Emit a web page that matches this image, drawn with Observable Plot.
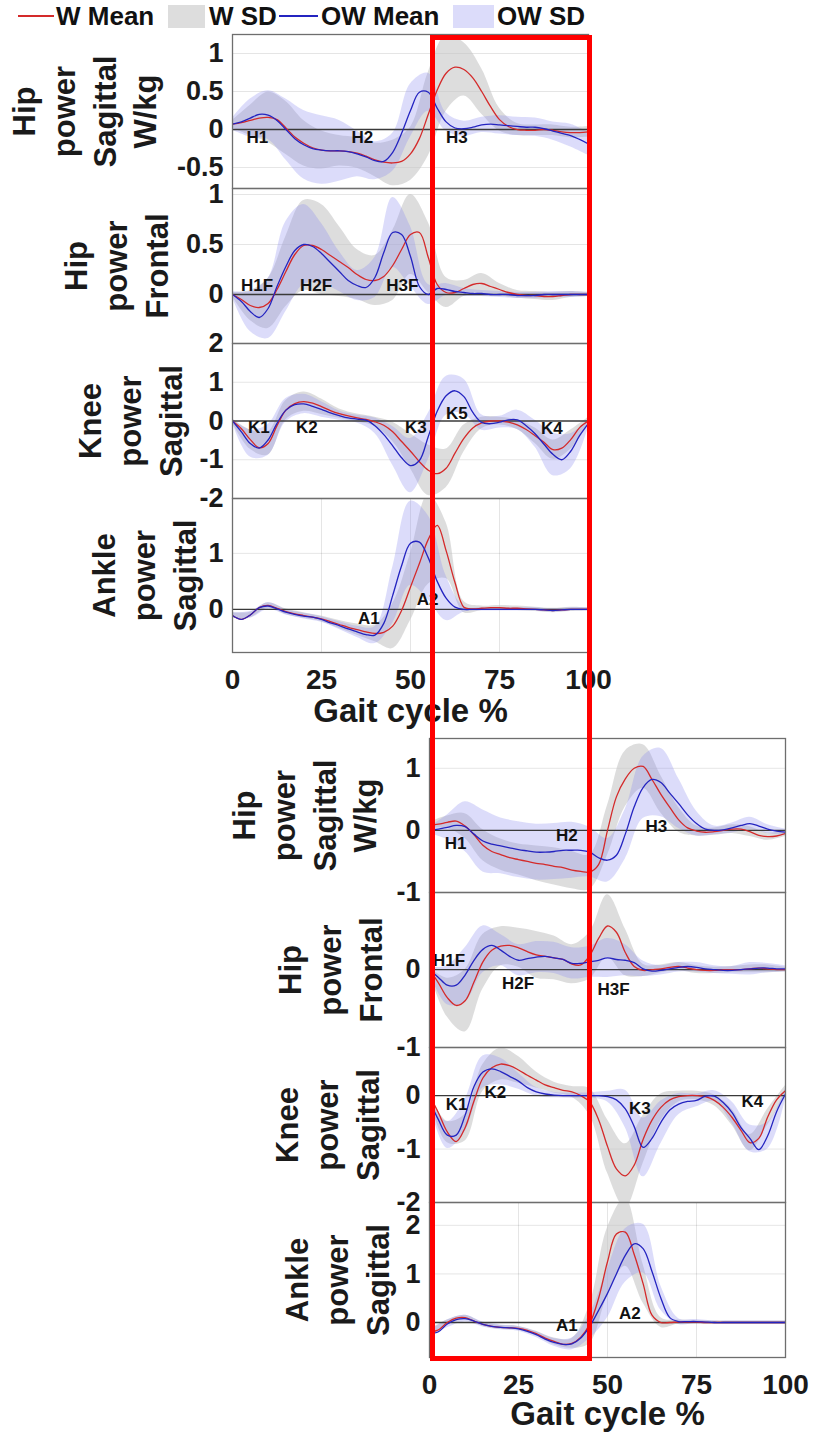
<!DOCTYPE html>
<html>
<head>
<meta charset="utf-8">
<script src="https://cdn.jsdelivr.net/npm/d3@7"></script>
<script src="https://cdn.jsdelivr.net/npm/@observablehq/plot@0.6"></script>
<style>
  body { margin: 0; background: #fff; font-family: "Liberation Sans", Arial, Helvetica, sans-serif; }
  #wrap { position: relative; width: 817px; height: 1437px; overflow: hidden; background: #fff; }
  .panel { position: absolute; left: 0; }
  .leg { position: absolute; font-weight: bold; font-size: 26px; line-height: 26px; color: #111; white-space: nowrap; }
  .sw { position: absolute; }
  #box { position: absolute; left: 430px; top: 35px; width: 162px; height: 1326px; border: 5px solid #ff0000; box-sizing: border-box; z-index: 10; }
</style>
</head>
<body>
<div id="wrap"></div>
<script>
// ---------------- data ----------------
const gaitPct = [0,2.5,5,7.5,10,12.5,15,17.5,20,22.5,25,27.5,30,32.5,35,37.5,40,42.5,45,47.5,50,52.5,55,57.5,60,62.5,65,67.5,70,72.5,75,77.5,80,82.5,85,87.5,90,92.5,95,97.5,100];
const sdPct = [0,5,10,15,20,25,30,35,40,45,50,55,60,65,70,75,80,85,90,95,100];

const seriesNames = ["W Mean", "W SD", "OW Mean", "OW SD"];

// Top figure
const topHipSagW   = [0.07,0.09,0.12,0.15,0.16,0.13,0.02,-0.1,-0.18,-0.24,-0.27,-0.28,-0.28,-0.29,-0.31,-0.35,-0.4,-0.43,-0.44,-0.42,-0.32,-0.12,0.2,0.52,0.74,0.82,0.79,0.68,0.5,0.3,0.13,0.04,0.0,-0.01,-0.01,0.0,-0.01,-0.03,-0.04,-0.04,-0.03];
const topHipSagOW  = [0.07,0.1,0.15,0.2,0.19,0.12,0.0,-0.12,-0.2,-0.25,-0.27,-0.28,-0.28,-0.29,-0.32,-0.36,-0.41,-0.42,-0.3,-0.05,0.25,0.49,0.49,0.28,0.1,0.02,0.01,0.03,0.06,0.07,0.06,0.05,0.04,0.03,0.03,0.01,-0.02,-0.05,-0.08,-0.13,-0.19];
const topHipSagWsd  = [0.05,0.2,0.33,0.35,0.3,0.25,0.2,0.2,0.22,0.3,0.35,0.55,0.5,0.35,0.3,0.15,0.08,0.07,0.07,0.07,0.07];
const topHipSagOWsd = [0.08,0.25,0.32,0.4,0.45,0.45,0.4,0.3,0.25,0.25,0.35,0.25,0.12,0.1,0.1,0.12,0.12,0.12,0.12,0.15,0.15];

const topHipFrW   = [0,-0.05,-0.11,-0.13,-0.09,0.05,0.23,0.4,0.49,0.49,0.45,0.39,0.33,0.27,0.2,0.15,0.14,0.18,0.29,0.45,0.6,0.62,0.37,0.1,0.02,0.02,0.06,0.1,0.11,0.08,0.05,0.02,0.0,-0.01,-0.01,-0.02,-0.02,-0.01,0,0,0];
const topHipFrOW  = [0,-0.07,-0.17,-0.23,-0.14,0.08,0.28,0.44,0.5,0.48,0.41,0.32,0.23,0.14,0.09,0.07,0.17,0.42,0.62,0.6,0.38,0.08,0.0,0.06,0.05,0.03,0.02,0.01,0.01,0,0,0,-0.01,-0.01,-0.01,0,0,0,0,0,0];
const topHipFrWsd  = [0.02,0.15,0.25,0.35,0.45,0.45,0.35,0.25,0.25,0.35,0.4,0.35,0.15,0.08,0.1,0.06,0.04,0.04,0.04,0.03,0.02];
const topHipFrOWsd = [0.03,0.2,0.3,0.45,0.4,0.3,0.2,0.15,0.2,0.35,0.3,0.1,0.06,0.04,0.03,0.03,0.03,0.03,0.03,0.03,0.02];

const topKneeW   = [0,-0.2,-0.48,-0.69,-0.58,-0.12,0.28,0.45,0.5,0.46,0.37,0.27,0.19,0.13,0.08,0.04,-0.02,-0.11,-0.28,-0.53,-0.78,-1.05,-1.27,-1.36,-1.22,-0.83,-0.45,-0.18,-0.05,0.0,0.0,-0.03,-0.1,-0.22,-0.38,-0.55,-0.74,-0.7,-0.48,-0.17,0.0];
const topKneeOW  = [0,-0.28,-0.58,-0.7,-0.49,-0.06,0.28,0.42,0.44,0.38,0.3,0.21,0.14,0.08,0.05,0.02,-0.12,-0.35,-0.64,-0.95,-1.15,-1.02,-0.4,0.25,0.65,0.78,0.63,0.22,-0.04,-0.07,-0.03,0.03,0.03,-0.12,-0.33,-0.6,-0.86,-1.0,-0.78,-0.38,-0.06];
const topKneeWsd  = [0.05,0.25,0.3,0.25,0.25,0.2,0.12,0.1,0.12,0.25,0.45,0.65,0.5,0.35,0.15,0.1,0.12,0.2,0.25,0.25,0.1];
const topKneeOWsd = [0.05,0.35,0.4,0.3,0.25,0.2,0.12,0.1,0.2,0.5,0.7,0.6,0.5,0.45,0.2,0.15,0.25,0.35,0.55,0.45,0.1];

const topAnkleW   = [-0.11,-0.18,-0.1,0.03,0.07,0.02,-0.04,-0.08,-0.11,-0.14,-0.17,-0.22,-0.27,-0.32,-0.36,-0.4,-0.43,-0.41,-0.3,-0.02,0.4,0.82,1.25,1.5,1.05,0.48,0.04,0.01,0.02,0.03,0.03,0.02,0.02,0.01,0,-0.01,-0.02,-0.01,0,0,0];
const topAnkleOW  = [-0.11,-0.18,-0.1,0.03,0.06,0.01,-0.05,-0.09,-0.12,-0.14,-0.18,-0.24,-0.29,-0.35,-0.4,-0.45,-0.46,-0.25,0.25,0.78,1.18,1.2,0.92,0.5,0.2,0.04,0,0,0,0,0,0,0,0,0,-0.01,-0.02,-0.01,0,0,0];
const topAnkleWsd  = [0.05,0.05,0.05,0.05,0.05,0.05,0.07,0.1,0.15,0.4,0.6,0.8,0.5,0.1,0.04,0.04,0.04,0.04,0.04,0.04,0.03];
const topAnkleOWsd = [0.05,0.06,0.06,0.05,0.05,0.05,0.07,0.1,0.15,0.5,0.75,0.75,0.4,0.05,0.03,0.03,0.03,0.03,0.03,0.03,0.03];

// Bottom figure
const botHipSagW   = [0.08,0.1,0.13,0.15,0.07,-0.07,-0.24,-0.34,-0.39,-0.44,-0.47,-0.5,-0.53,-0.55,-0.58,-0.6,-0.64,-0.66,-0.67,-0.55,0.0,0.54,0.83,1.0,1.03,0.82,0.58,0.37,0.17,0.04,-0.01,-0.03,-0.02,0,0.02,0.02,-0.02,-0.08,-0.1,-0.09,-0.05];
const botHipSagOW  = [0,0.02,0.05,0.08,0.06,-0.06,-0.17,-0.22,-0.25,-0.28,-0.31,-0.33,-0.35,-0.35,-0.34,-0.32,-0.32,-0.32,-0.35,-0.44,-0.48,-0.4,-0.06,0.38,0.69,0.82,0.77,0.6,0.43,0.25,0.11,0.02,0,0.01,0.04,0.08,0.11,0.07,0.02,-0.01,-0.03];
const botHipSagWsd  = [0.05,0.1,0.2,0.25,0.25,0.25,0.28,0.3,0.3,0.28,0.4,0.45,0.35,0.3,0.2,0.08,0.06,0.07,0.08,0.06,0.05];
const botHipSagOWsd = [0.05,0.2,0.4,0.5,0.45,0.45,0.45,0.45,0.45,0.4,0.35,0.4,0.5,0.55,0.4,0.2,0.07,0.08,0.1,0.07,0.05];

const botHipFrW   = [0,-0.17,-0.36,-0.46,-0.4,-0.16,0.1,0.25,0.3,0.31,0.28,0.23,0.19,0.17,0.15,0.13,0.07,0.06,0.18,0.4,0.56,0.48,0.22,0.04,-0.01,0,0.01,0.03,0.04,0.02,0,-0.01,-0.01,0,0,0,0.01,0.02,0.01,0,0];
const botHipFrOW  = [0,-0.1,-0.2,-0.2,-0.07,0.12,0.26,0.31,0.25,0.17,0.12,0.14,0.16,0.17,0.15,0.13,0.08,0.08,0.1,0.12,0.15,0.13,0.12,0.09,0.01,-0.02,-0.01,0.01,0.03,0.04,0.03,0.01,0,-0.01,-0.01,0,0.01,0.02,0.02,0.01,0.01];
const botHipFrWsd  = [0.03,0.25,0.4,0.35,0.25,0.25,0.3,0.28,0.25,0.3,0.4,0.3,0.08,0.05,0.05,0.05,0.04,0.04,0.05,0.05,0.03];
const botHipFrOWsd = [0.03,0.25,0.35,0.3,0.2,0.2,0.2,0.2,0.2,0.2,0.25,0.2,0.1,0.06,0.06,0.06,0.05,0.05,0.08,0.06,0.04];

const botKneeW   = [0,-0.32,-0.68,-0.86,-0.6,-0.1,0.33,0.52,0.59,0.56,0.48,0.38,0.29,0.2,0.15,0.1,0.07,0,-0.12,-0.45,-0.95,-1.37,-1.5,-1.3,-0.82,-0.46,-0.22,-0.08,-0.02,0,0,-0.02,-0.09,-0.22,-0.41,-0.65,-0.88,-0.8,-0.4,-0.08,0.09];
const botKneeOW  = [-0.09,-0.45,-0.74,-0.74,-0.37,0.17,0.44,0.5,0.45,0.36,0.27,0.15,0.07,0.03,0.01,0,0,0,0,0,-0.02,-0.08,-0.25,-0.58,-0.97,-0.8,-0.5,-0.27,-0.16,-0.11,-0.09,-0.01,-0.01,-0.13,-0.32,-0.6,-0.8,-1.01,-0.75,-0.3,0.03];
const botKneeWsd  = [0.05,0.2,0.25,0.25,0.3,0.25,0.15,0.1,0.1,0.25,0.5,0.6,0.45,0.25,0.1,0.08,0.1,0.15,0.15,0.15,0.1];
const botKneeOWsd = [0.05,0.25,0.3,0.3,0.25,0.15,0.08,0.05,0.05,0.05,0.1,0.35,0.55,0.4,0.2,0.12,0.1,0.2,0.25,0.25,0.1];

const botAnkleW   = [-0.2,-0.15,0,0.09,0.1,0.03,-0.04,-0.08,-0.1,-0.11,-0.12,-0.16,-0.23,-0.32,-0.39,-0.45,-0.43,-0.3,-0.03,0.5,1.25,1.82,1.86,1.4,0.8,0.15,0,0,0.01,0.01,0.01,0,0,0,0,0,0,0,0,0,0];
const botAnkleOW  = [-0.23,-0.19,-0.03,0.06,0.08,0.03,-0.04,-0.08,-0.1,-0.11,-0.13,-0.18,-0.25,-0.34,-0.41,-0.45,-0.44,-0.32,-0.08,0.25,0.6,1.0,1.38,1.62,1.52,1.05,0.5,0.1,0.02,0.02,0.02,0.01,0,0,0,0,0,0,0,0,0];
const botAnkleWsd  = [0.05,0.05,0.05,0.04,0.04,0.04,0.05,0.07,0.1,0.4,0.7,0.7,0.4,0.1,0.04,0.03,0.03,0.03,0.03,0.03,0.03];
const botAnkleOWsd = [0.05,0.08,0.07,0.05,0.05,0.05,0.06,0.08,0.12,0.25,0.5,0.55,0.5,0.25,0.06,0.04,0.03,0.03,0.03,0.03,0.03];

// Phase labels: name, gait %, power value
const topHipSagPhases  = [["H1",7,-0.1],["H2",36.5,-0.1],["H3",63,-0.1]];
const topHipFrPhases   = [["H1F",6.9,0.09],["H2F",23.5,0.09],["H3F",47.7,0.09]];
const topKneePhases    = [["K1",7.4,-0.18],["K2",20.9,-0.18],["K3",51.5,-0.18],["K5",63,0.2],["K4",89.7,-0.2]];
const topAnklePhases   = [["A1",38.3,-0.16],["A2",54.8,0.18]];
const botHipSagPhases  = [["H1",7.3,-0.21],["H2",38.6,-0.08],["H3",63.7,0.06]];
const botHipFrPhases   = [["H1F",5.5,0.12],["H2F",24.9,-0.18],["H3F",51.7,-0.26]];
const botKneePhases    = [["K1",7.6,-0.16],["K2",18.5,0.06],["K3",59.1,-0.25],["K4",90.7,-0.12]];
const botAnklePhases   = [["A1",38.6,-0.06],["A2",56.3,0.19]];

const gaitTicks = [0,25,50,75,100];

// ---------------- layout ----------------
const FONT = "'Liberation Sans', Arial, Helvetica, sans-serif";
const W = 817;
const panels = [
  {left:232,right:588,top:34, bottom:188, dom:[-0.776,1.25], ticks:[1,0.5,0,-0.5], grid:[1,0.5,-0.5], w:topHipSagW, ow:topHipSagOW, wsd:topHipSagWsd, owsd:topHipSagOWsd, ph:topHipSagPhases, title:"Hip\npower\nSagittal\nW/kg", tdx:-150},
  {left:232,right:588,top:188,bottom:343, dom:[-0.49,1.06], ticks:[1,0.5,0], grid:[1,0.5], w:topHipFrW, ow:topHipFrOW, wsd:topHipFrWsd, owsd:topHipFrOWsd, ph:topHipFrPhases, title:"Hip\npower\nFrontal", tdx:-118},
  {left:232,right:588,top:343,bottom:498, dom:[-2,2], ticks:[2,1,0,-1,-2], grid:[1,-1], w:topKneeW, ow:topKneeOW, wsd:topKneeWsd, owsd:topKneeOWsd, ph:topKneePhases, title:"Knee\npower\nSagittal", tdx:-104},
  {left:232,right:588,top:498,bottom:652, dom:[-0.77,1.98], ticks:[1,0], grid:[1], w:topAnkleW, ow:topAnkleOW, wsd:topAnkleWsd, owsd:topAnkleOWsd, ph:topAnklePhases, title:"Ankle\npower\nSagittal", tdx:-90, xaxis:true, xlabDy:59},
  {left:429,right:785,top:738,bottom:892, dom:[-1,1.48], ticks:[1,0,-1], grid:[1], w:botHipSagW, ow:botHipSagOW, wsd:botHipSagWsd, owsd:botHipSagOWsd, ph:botHipSagPhases, title:"Hip\npower\nSagittal\nW/kg", tdx:-127},
  {left:429,right:785,top:892,bottom:1047, dom:[-1,0.99], ticks:[0,-1], grid:[], w:botHipFrW, ow:botHipFrOW, wsd:botHipFrWsd, owsd:botHipFrOWsd, ph:botHipFrPhases, title:"Hip\npower\nFrontal", tdx:-101},
  {left:429,right:785,top:1047,bottom:1202, dom:[-2,0.9], ticks:[0,-1,-2], grid:[-1], w:botKneeW, ow:botKneeOW, wsd:botKneeWsd, owsd:botKneeOWsd, ph:botKneePhases, title:"Knee\npower\nSagittal", tdx:-104},
  {left:429,right:785,top:1202,bottom:1357, dom:[-0.72,2.47], ticks:[2,1,0], grid:[2,1], w:botAnkleW, ow:botAnkleOW, wsd:botAnkleWsd, owsd:botAnkleOWsd, ph:botAnklePhases, title:"Ankle\npower\nSagittal", tdx:-94, xaxis:true, xlabDy:57}
];

const wrap = document.getElementById("wrap");
const M = 20;

function bandRows(mean, sd) {
  return sdPct.map((x, i) => ({x, lo: mean[i * 2] - sd[i], hi: mean[i * 2] + sd[i]}));
}
function lineRows(mean) {
  return gaitPct.map((x, i) => ({x, y: mean[i]}));
}

for (const p of panels) {
  const mb = p.xaxis ? 80 : M;
  const h = (p.bottom - p.top) + M + mb;
  const marks = [
    Plot.gridY(p.grid, {stroke: "#000", strokeOpacity: 0.1}),
    p.xaxis ? Plot.gridX([25, 50, 75], {stroke: "#000", strokeOpacity: 0.1}) : null,
    Plot.areaY(bandRows(p.w, p.wsd), {x: "x", y1: "lo", y2: "hi", curve: "catmull-rom", fill: "#c4c4c4", fillOpacity: 0.58, clip: true}),
    Plot.areaY(bandRows(p.ow, p.owsd), {x: "x", y1: "lo", y2: "hi", curve: "catmull-rom", fill: "#8c8cf0", fillOpacity: 0.3, clip: true}),
    Plot.ruleY([0], {stroke: "#3a3a3a", strokeWidth: 1.4}),
    Plot.line(lineRows(p.w), {x: "x", y: "y", curve: "catmull-rom", stroke: "#d42a2a", strokeWidth: 1.3, clip: true}),
    Plot.line(lineRows(p.ow), {x: "x", y: "y", curve: "catmull-rom", stroke: "#2424c0", strokeWidth: 1.3, clip: true}),
    Plot.text(p.ph, {x: d => d[1], y: d => d[2], text: d => d[0], fontSize: 17, fontWeight: "bold", fill: "#111"}),
    Plot.frame({stroke: "#6e6e6e", strokeWidth: 1.3}),
    Plot.axisY({ticks: p.ticks, tickSize: 0, tickPadding: 9, fontSize: 27, fontWeight: "bold", tickFormat: d => String(d), label: null}),
    Plot.text([p.title], {frameAnchor: "left", dx: p.tdx, rotate: -90, fontSize: 31, fontWeight: "bold", lineHeight: 1.3, textAnchor: "middle", lineAnchor: "middle", fill: "#1a1a1a"})
  ];
  if (p.xaxis) {
    marks.push(Plot.axisX({ticks: gaitTicks, tickSize: 0, tickPadding: 17, fontSize: 28, fontWeight: "bold", tickFormat: d => String(d), label: null}));
    marks.push(Plot.text(["Gait cycle %"], {frameAnchor: "bottom", dy: p.xlabDy, lineAnchor: "middle", fontSize: 33, fontWeight: "bold", fill: "#1a1a1a"}));
  }
  const chart = Plot.plot({
    width: W,
    height: h,
    marginLeft: p.left,
    marginRight: W - p.right,
    marginTop: M,
    marginBottom: mb,
    x: {domain: [0, 100], ...(p.xaxis ? {} : {axis: null})},
    y: {domain: p.dom},
    style: {background: "transparent", overflow: "visible", fontFamily: FONT, color: "#1a1a1a"},
    marks: marks.filter(Boolean)
  });
  const div = document.createElement("div");
  div.className = "panel";
  div.style.top = (p.top - M) + "px";
  div.appendChild(chart);
  wrap.appendChild(div);
}

// ---------------- legend ----------------
const legendItems = [
  {kind: "line", color: "#d42a2a", x: 18, w: 36, label: seriesNames[0], tx: 56},
  {kind: "box", color: "rgba(196,196,196,0.58)", x: 168, w: 37, label: seriesNames[1], tx: 209},
  {kind: "line", color: "#2424c0", x: 279, w: 39, label: seriesNames[2], tx: 321},
  {kind: "box", color: "rgba(140,140,240,0.3)", x: 453, w: 41, label: seriesNames[3], tx: 497}
];
for (const it of legendItems) {
  const sw = document.createElement("div");
  sw.className = "sw";
  sw.style.left = it.x + "px";
  sw.style.width = it.w + "px";
  if (it.kind === "line") { sw.style.top = "15px"; sw.style.height = "1.5px"; }
  else { sw.style.top = "5px"; sw.style.height = "23px"; }
  sw.style.background = it.color;
  wrap.appendChild(sw);
  const t = document.createElement("div");
  t.className = "leg";
  t.style.left = it.tx + "px";
  t.style.top = "3px";
  t.textContent = it.label;
  wrap.appendChild(t);
}

// highlight box overlay
const box = document.createElement("div");
box.id = "box";
wrap.appendChild(box);
</script>
</body>
</html>
